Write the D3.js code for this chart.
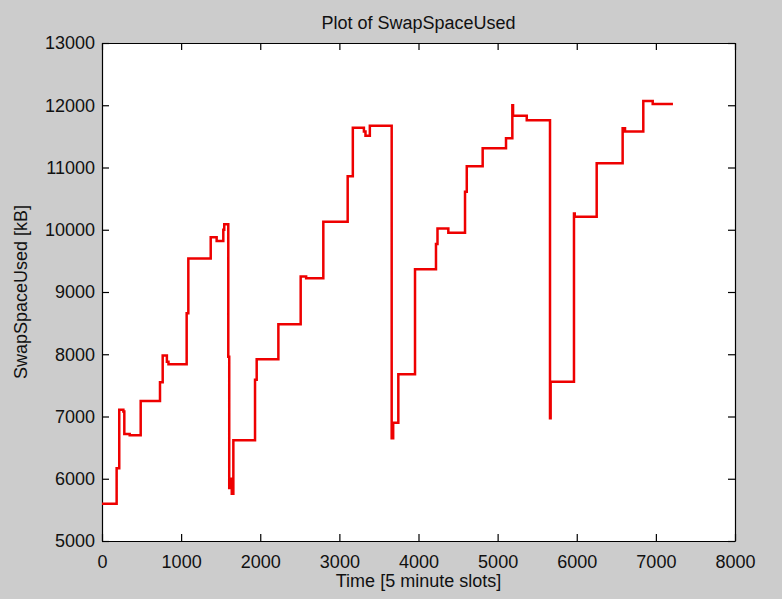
<!DOCTYPE html>
<html>
<head>
<meta charset="utf-8">
<script src="https://d3js.org/d3.v7.min.js"></script>
<style>
    body { margin: 0; background: #cccccc; }
    text { font-family: "Liberation Sans", Arial, sans-serif; fill: #111; }
</style>
</head>
<body>
<svg id="vis"></svg>
<script>
    // step changes: slot where the level starts, and the level in kB
    const slots = [0, 185, 218, 270, 282, 350, 489, 733, 767, 820, 840, 1070, 1091, 1374, 1449, 1533, 1545,
        1596, 1608, 1625, 1640, 1660, 1934, 1955, 2229, 2511, 2580, 2797, 3105, 3170, 3310, 3330, 3385,
        3661, 3680, 3745, 3956, 4221, 4240, 4377, 4588, 4610, 4811, 5106, 5186, 5195, 5368,
        5662, 5670, 5965, 5975, 6252, 6580, 6610, 6841, 6960, 7200];
    const swapKB = [5600, 6170, 7110, 7080, 6720, 6700, 7250, 7550, 7980, 7880, 7840, 8660, 9540, 9880, 9820, 10000, 10090,
        7960, 5850, 6000, 5760, 6620, 7590, 7920, 8480, 9250, 9220, 10130, 10860, 11640, 11580, 11510, 11670,
        6650, 6900, 7680, 9365, 9770, 10020, 9950, 10610, 11020, 11310, 11470, 12000, 11830, 11760,
        6970, 7560, 10260, 10210, 11070, 11630, 11580, 12070, 12020, 12000];

    const xTicks = [0, 1000, 2000, 3000, 4000, 5000, 6000, 7000, 8000];
    const yTicks = [5000, 6000, 7000, 8000, 9000, 10000, 11000, 12000, 13000];

    const width = 782, height = 599;
    const margin = {top: 43, right: 47, bottom: 58, left: 102};
    const w = width - margin.left - margin.right,
          h = height - margin.top - margin.bottom;

    let svg = d3.select("#vis").attr("width", width).attr("height", height);
    svg.append("rect").attr("width", width).attr("height", height).attr("fill", "#cccccc");

    let g = svg.append("g").attr("transform", `translate(${margin.left},${margin.top})`);
    g.append("rect").attr("width", w).attr("height", h).attr("fill", "white");

    let x = d3.scaleLinear().domain([0, 8000]).range([0, w]);
    let y = d3.scaleLinear().domain([5000, 13000]).range([h, 0]);

    // axes with inward ticks, MATLAB box style
    let fmt = d3.format("d");
    let styleAxis = sel => {
        sel.select(".domain").attr("stroke", "#000").attr("stroke-width", 1.2);
        sel.selectAll(".tick line").attr("stroke", "#000").attr("stroke-width", 1.2);
        sel.selectAll("text").style("font-size", "18px").attr("fill", "#111");
    };
    g.append("g").attr("transform", `translate(0,${h})`)
        .call(d3.axisBottom(x).tickValues(xTicks).tickFormat(fmt).tickSizeInner(-7).tickSizeOuter(0).tickPadding(10))
        .call(styleAxis)
        .selectAll("text").attr("dy", "0.95em");
    g.append("g")
        .call(d3.axisLeft(y).tickValues(yTicks).tickFormat(fmt).tickSizeInner(-7).tickSizeOuter(0).tickPadding(7))
        .call(styleAxis);
    g.append("g")
        .call(d3.axisTop(x).tickValues(xTicks).tickFormat("").tickSizeInner(-7).tickSizeOuter(0))
        .call(styleAxis);
    g.append("g").attr("transform", `translate(${w},0)`)
        .call(d3.axisRight(y).tickValues(yTicks).tickFormat("").tickSizeInner(-7).tickSizeOuter(0))
        .call(styleAxis);

    let data = slots.map((s, i) => ({slot: s, kb: swapKB[i]}));
    let line = d3.line()
        .x(d => x(d.slot))
        .y(d => y(d.kb))
        .curve(d3.curveStepAfter);
    g.append("path")
        .datum(data)
        .attr("d", line)
        .attr("fill", "none")
        .attr("stroke", "#ee0000")
        .attr("stroke-width", 2.5)
        .attr("stroke-linejoin", "miter");

    svg.append("text")
        .attr("x", margin.left + w / 2)
        .attr("y", 29)
        .attr("text-anchor", "middle")
        .style("font-size", "18px")
        .text("Plot of SwapSpaceUsed");
    svg.append("text")
        .attr("x", margin.left + w / 2)
        .attr("y", 587)
        .attr("text-anchor", "middle")
        .style("font-size", "18px")
        .text("Time [5 minute slots]");
    svg.append("text")
        .attr("transform", `translate(27,${margin.top + h / 2})rotate(-90)`)
        .attr("text-anchor", "middle")
        .style("font-size", "18px")
        .text("SwapSpaceUsed [kB]");
</script>
</body>
</html>
